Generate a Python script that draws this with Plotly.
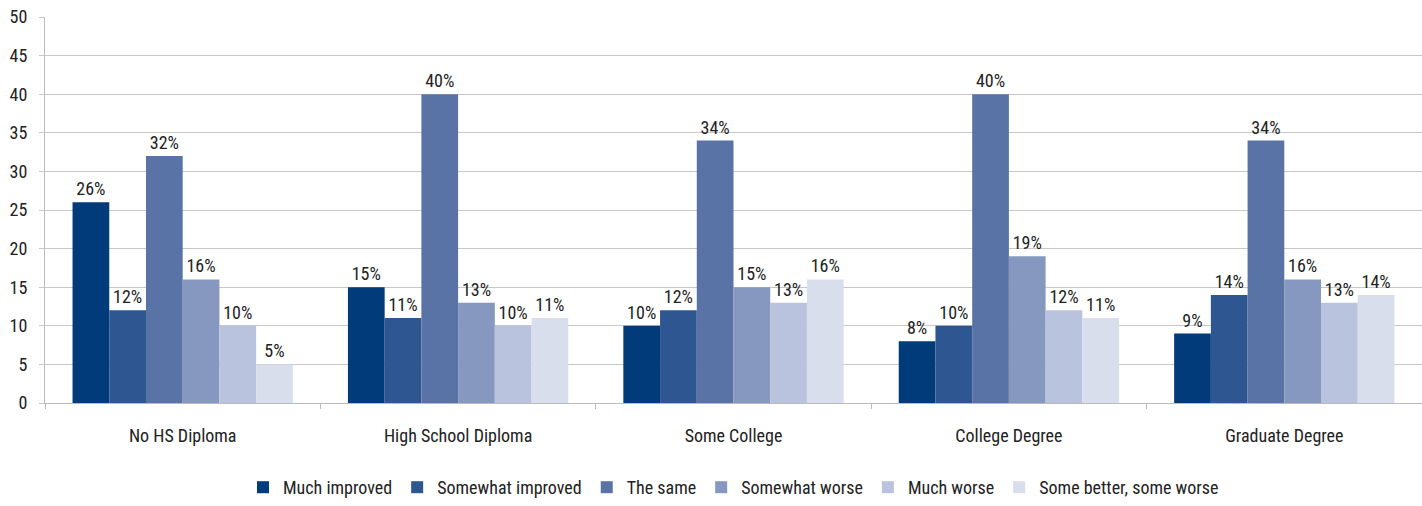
import plotly.graph_objects as go

# categories and series
categories = ['No HS Diploma', 'High School Diploma', 'Some College', 'College Degree', 'Graduate Degree']
much_improved = [26, 15, 10, 8, 9]
somewhat_improved = [12, 11, 12, 10, 14]
the_same = [32, 40, 34, 40, 34]
somewhat_worse = [16, 13, 15, 19, 16]
much_worse = [10, 10, 13, 12, 13]
some_better_worse = [5, 11, 16, 11, 14]

series = [
    ('Much improved', much_improved, '#023B79'),
    ('Somewhat improved', somewhat_improved, '#2E5690'),
    ('The same', the_same, '#5A73A6'),
    ('Somewhat worse', somewhat_worse, '#8798C0'),
    ('Much worse', much_worse, '#BAC3DD'),
    ('Some better, some worse', some_better_worse, '#D9DEEC'),
]

font_family = 'Liberation Sans Narrow, Arial Narrow, Roboto Condensed, Liberation Sans, sans-serif'

fig = go.Figure()
for name, vals, col in series:
    fig.add_trace(go.Bar(
        x=categories,
        y=vals,
        name=name,
        marker=dict(color=col, line=dict(width=0)),
        text=[f'{v}%' for v in vals],
        textposition='outside',
        cliponaxis=False,
        textfont=dict(size=18, color='#222222', family=font_family),
    ))

fig.update_layout(
    barmode='group',
    bargap=0.2,
    bargroupgap=0,
    width=1422,
    height=506,
    margin=dict(l=45, r=0, t=17, b=98),
    plot_bgcolor='white',
    paper_bgcolor='white',
    font=dict(family=font_family, size=18, color='#222222'),
    legend=dict(
        orientation='h',
        x=0.5, xanchor='center',
        y=-0.22, yanchor='middle',
        font=dict(size=18),
        itemwidth=30,
        traceorder='normal',
    ),
    uniformtext=dict(mode=False),
)
fig.update_xaxes(
    automargin=False,
    showline=True, linecolor='#BBBBBB', linewidth=1,
    ticks='outside', tickson='boundaries', ticklen=5, tickcolor='#BBBBBB',
    tickfont=dict(size=18),
    ticklabelstandoff=16,
)
fig.update_yaxes(
    automargin=False,
    range=[0, 50], dtick=5,
    showgrid=True, gridcolor='#C8C8C8', gridwidth=1,
    showline=True, linecolor='#BBBBBB', linewidth=1,
    ticks='outside', ticklen=5, tickcolor='#C8C8C8',
    tickfont=dict(size=18),
    ticklabelstandoff=8,
    ticklabeloverflow='allow',
    zeroline=False,
)

# pin the plot to the window's top-left corner so the page is exactly the figure
pin_js = (
    "document.body.style.margin='0';"
    "var d=document.getElementById('{plot_id}');"
    "d.style.position='absolute';d.style.left='0';d.style.top='0';"
)
fig.write_html('out.html', config={'displayModeBar': False}, post_script=pin_js)
